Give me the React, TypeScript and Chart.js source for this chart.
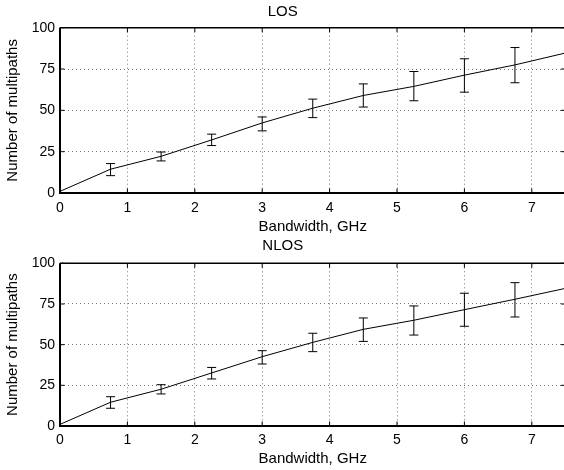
import React, { useEffect, useRef } from "react";
import { Chart, registerables } from "chart.js";

Chart.register(...registerables);

// ---- data ----
const lineX = [0, 0.75, 1.5, 2.25, 3, 3.75, 4.5, 5.25, 6, 6.75, 7.5];
const losLine = [1, 14.4, 22.2, 32.1, 42.4, 51.3, 59.0, 64.5, 71.3, 77.5, 84.7];
const nlosLine = [1, 14.6, 22.6, 32.6, 42.6, 51.4, 59.4, 65.0, 71.5, 77.9, 84.6];

const errX = [0.75, 1.5, 2.25, 3, 3.75, 4.5, 5.25, 6, 6.75];
const losLow = [10.5, 19.4, 28.7, 37.6, 45.6, 52.0, 55.8, 61.0, 66.7];
const losHigh = [17.8, 24.8, 35.6, 46.0, 56.8, 66.0, 73.5, 81.2, 88.0];
const nlosLow = [10.9, 19.7, 28.9, 38.1, 45.7, 52.0, 55.9, 61.3, 67.0];
const nlosHigh = [18.0, 25.4, 36.0, 46.3, 57.0, 66.4, 73.8, 81.6, 88.1];

const xTicksMin = 0;
const xTicksMax = 7.5;
const yTicksMin = 0;
const yTicksMax = 100;

const FONT = "'Liberation Sans', Helvetica, Arial, sans-serif";

const framePlugin = {
  id: "matlabFrame",
  afterDatasetsDraw(chart: any, _args: any, opts: any) {
    const { ctx, chartArea: a, scales } = chart;
    const x = scales.x;
    const y = scales.y;
    ctx.save();
    ctx.strokeStyle = "#000";
    ctx.lineWidth = 1;
    // error bars
    const eb = opts.errorBars;
    if (eb) {
      eb.x.forEach((xv: number, i: number) => {
        const px = x.getPixelForValue(xv);
        const pl = y.getPixelForValue(eb.low[i]);
        const ph = y.getPixelForValue(eb.high[i]);
        ctx.beginPath();
        ctx.moveTo(px, pl);
        ctx.lineTo(px, ph);
        ctx.moveTo(px - 4.5, pl);
        ctx.lineTo(px + 4.5, pl);
        ctx.moveTo(px - 4.5, ph);
        ctx.lineTo(px + 4.5, ph);
        ctx.stroke();
      });
    }
    // inward tick marks
    const tl = 4.5;
    ctx.lineWidth = 1;
    ctx.beginPath();
    x.ticks.forEach((t: any) => {
      const px = x.getPixelForValue(t.value);
      ctx.moveTo(px, a.bottom);
      ctx.lineTo(px, a.bottom - tl);
      ctx.moveTo(px, a.top);
      ctx.lineTo(px, a.top + tl);
    });
    y.ticks.forEach((t: any) => {
      const py = y.getPixelForValue(t.value);
      ctx.moveTo(a.left, py);
      ctx.lineTo(a.left + tl, py);
      ctx.moveTo(a.right, py);
      ctx.lineTo(a.right - tl, py);
    });
    ctx.stroke();
    // frame
    ctx.lineWidth = 1.4;
    ctx.beginPath();
    ctx.moveTo(a.left, a.top);
    ctx.lineTo(a.right, a.top);
    ctx.lineTo(a.right, a.bottom);
    ctx.stroke();
    ctx.lineWidth = 2;
    ctx.beginPath();
    ctx.moveTo(a.left, a.top);
    ctx.lineTo(a.left, a.bottom);
    ctx.lineTo(a.right, a.bottom);
    ctx.stroke();
    ctx.restore();
  },
};

type PanelProps = {
  title: string;
  values: number[];
  low: number[];
  high: number[];
  titlePad: { top: number; bottom: number };
  xHeight: number;
  xTickPad: number;
  xTitlePad: number;
};

function Panel(p: PanelProps) {
  const ref = useRef<HTMLCanvasElement | null>(null);
  useEffect(() => {
    if (!ref.current) return;
    const chart = new Chart(ref.current, {
      type: "line",
      data: {
        datasets: [
          {
            data: lineX.map((x, i) => ({ x, y: p.values[i] })),
            borderColor: "#000",
            borderWidth: 1,
            pointRadius: 0,
            tension: 0,
            fill: false,
          },
        ],
      },
      options: {
        animation: false,
        responsive: false,
        devicePixelRatio: 1,
        layout: { padding: { left: 0, right: 6.5, top: 0, bottom: 0 } },
        plugins: {
          legend: { display: false },
          tooltip: { enabled: false },
          title: {
            display: true,
            text: p.title,
            color: "#000",
            font: { family: FONT, size: 15, weight: "normal", lineHeight: 1.2 },
            padding: p.titlePad,
          },
          matlabFrame: { errorBars: { x: errX, low: p.low, high: p.high } },
        } as any,
        scales: {
          x: {
            type: "linear",
            min: xTicksMin,
            max: xTicksMax,
            afterFit: (s: any) => {
              s.height = p.xHeight;
            },
            ticks: {
              stepSize: 1,
              includeBounds: false,
              color: "#000",
              padding: p.xTickPad,
              maxRotation: 0,
              font: { family: FONT, size: 14 },
            },
            grid: { color: "#777", lineWidth: 1, drawTicks: false },
            border: { display: false, dash: [1, 3] },
            title: {
              display: true,
              text: "Bandwidth, GHz",
              color: "#000",
              font: { family: FONT, size: 15, lineHeight: 1 },
              padding: { top: 0, bottom: p.xTitlePad },
            },
          },
          y: {
            type: "linear",
            min: yTicksMin,
            max: yTicksMax,
            afterFit: (s: any) => {
              s.width = 60;
            },
            ticks: {
              stepSize: 25,
              color: "#000",
              padding: 5,
              font: { family: FONT, size: 14 },
            },
            grid: { color: "#777", lineWidth: 1, drawTicks: false },
            border: { display: false, dash: [1, 3] },
            title: {
              display: true,
              text: "Number of multipaths",
              color: "#000",
              font: { family: FONT, size: 15, lineHeight: 1 },
              padding: { top: 5.5, bottom: 0 },
            },
          },
        },
      },
      plugins: [framePlugin],
    });
    return () => chart.destroy();
  }, []);
  return (
    <canvas
      ref={ref}
      width={572}
      height={235}
      style={{ width: 572, height: 235, display: "block" }}
    />
  );
}

export default function App() {
  return (
    <div
      style={{
        position: "fixed",
        left: 0,
        top: 0,
        width: 564,
        height: 470,
        overflow: "hidden",
        background: "#fff",
      }}
    >
      <div style={{ position: "absolute", left: 0, top: 0 }}>
        <Panel
          title="LOS"
          values={losLine}
          low={losLow}
          high={losHigh}
          titlePad={{ top: 2.5, bottom: 7.2 }}
          xHeight={42}
          xTickPad={6.3}
          xTitlePad={1}
        />
      </div>
      <div style={{ position: "absolute", left: 0, top: 235 }}>
        <Panel
          title="NLOS"
          values={nlosLine}
          low={nlosLow}
          high={nlosHigh}
          titlePad={{ top: 2, bottom: 8.3 }}
          xHeight={44}
          xTickPad={5.6}
          xTitlePad={3.5}
        />
      </div>
    </div>
  );
}
